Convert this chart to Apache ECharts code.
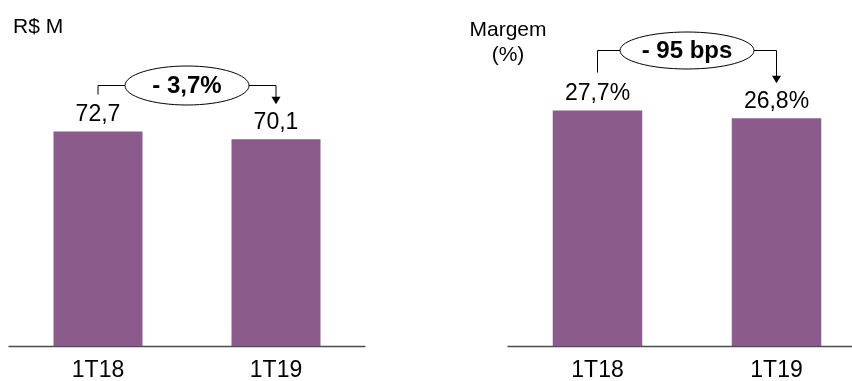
<!DOCTYPE html>
<html>
<head>
<meta charset="utf-8">
<script src="https://cdn.jsdelivr.net/npm/echarts@6/dist/echarts.min.js"></script>
<style>
  html, body { margin: 0; padding: 0; background: #fff; }
  #chart { width: 852px; height: 381px; }
</style>
</head>
<body>
<div id="chart"></div>
<script>
// Quarterly figures
const categories = ['1T18', '1T19'];
const receita = [72.7, 70.1];        // R$ M
const margem = [27.7, 26.8];         // %
const variacaoReceita = '- 3,7%';
const variacaoMargem = '- 95 bps';
const unidadeReceita = 'R$ M';
const unidadeMargem = ['Margem', '(%)'];

const FONT = '"Liberation Sans", Arial, sans-serif';
const BAR = '#8b5b8b';
const AXIS = '#4d4d4d';

const fmt = (v, suffix) => v.toFixed(1).replace('.', ',') + (suffix || '');

const chart = echarts.init(document.getElementById('chart'), null, { renderer: 'canvas' });

function xAxisCfg(gridIndex) {
  return {
    type: 'category',
    gridIndex,
    data: categories,
    axisTick: { show: false },
    axisLine: { lineStyle: { color: AXIS, width: 1.3 } },
    axisLabel: { color: '#000', fontFamily: FONT, fontSize: 23, margin: 13 }
  };
}
function yAxisCfg(gridIndex, max) {
  return { type: 'value', gridIndex, min: 0, max, show: false, splitLine: { show: false } };
}
function barSeries(idx, data, suffix) {
  return {
    type: 'bar',
    xAxisIndex: idx,
    yAxisIndex: idx,
    data,
    barWidth: '50%',
    itemStyle: { color: BAR },
    label: {
      show: true,
      position: 'top',
      distance: 5,
      color: '#000',
      fontFamily: FONT,
      fontSize: 23,
      formatter: p => fmt(p.value, suffix)
    }
  };
}

chart.setOption({
  animation: false,
  grid: [
    { left: 9, width: 356, top: 110, height: 236, containLabel: false, outerBoundsMode: 'none' },
    // the right panel's axis runs past the canvas edge
    { left: 508, width: 358, top: 91, height: 255, containLabel: false, outerBoundsMode: 'none' }
  ],
  xAxis: [xAxisCfg(0), xAxisCfg(1)],
  yAxis: [yAxisCfg(0, 80), yAxisCfg(1, 30)],
  series: [barSeries(0, receita, ''), barSeries(1, margem, '%')]
});

// Change bracket: line from first label, oval with the variation, arrow to second label
function bracket(idx, values, text, level, rx, ry, startGap, tipGap) {
  const x1 = chart.convertToPixel({ xAxisIndex: idx }, categories[0]);
  const x2 = chart.convertToPixel({ xAxisIndex: idx }, categories[1]);
  const y1 = chart.convertToPixel({ yAxisIndex: idx }, values[0]);
  const y2 = chart.convertToPixel({ yAxisIndex: idx }, values[1]);
  const cx = (x1 + x2) / 2;
  const tipY = y2 - tipGap;
  const line = { stroke: '#000', lineWidth: 1, fill: null };
  return [
    { type: 'polyline', shape: { points: [[x1, y1 - startGap], [x1, level], [cx - rx, level]] }, style: line },
    { type: 'polyline', shape: { points: [[cx + rx, level], [x2, level], [x2, tipY - 6]] }, style: line },
    { type: 'polygon', shape: { points: [[x2 - 4.5, tipY - 7.5], [x2 + 4.5, tipY - 7.5], [x2, tipY]] }, style: { fill: '#000' } },
    { type: 'ellipse', shape: { cx, cy: level, rx, ry }, style: { fill: '#fff', stroke: '#000', lineWidth: 1 } },
    { type: 'text', x: cx, y: level + 1, style: { text, fill: '#000', font: 'bold 24px ' + FONT, textAlign: 'center', textVerticalAlign: 'middle' } }
  ];
}

chart.setOption({
  graphic: [
    { type: 'text', left: 13, top: 17, style: { text: unidadeReceita, fill: '#000', font: '21px ' + FONT } },
    { type: 'text', x: 508, y: 30, style: { text: unidadeMargem[0], fill: '#000', font: '21px ' + FONT, textAlign: 'center', textVerticalAlign: 'middle' } },
    { type: 'text', x: 508, y: 55, style: { text: unidadeMargem[1], fill: '#000', font: '21px ' + FONT, textAlign: 'center', textVerticalAlign: 'middle' } },
    ...bracket(0, receita, variacaoReceita, 85.5, 62, 19.5, 37, 35),
    ...bracket(1, margem, variacaoMargem, 50.5, 67, 18.5, 38, 35)
  ]
});
</script>
</body>
</html>
